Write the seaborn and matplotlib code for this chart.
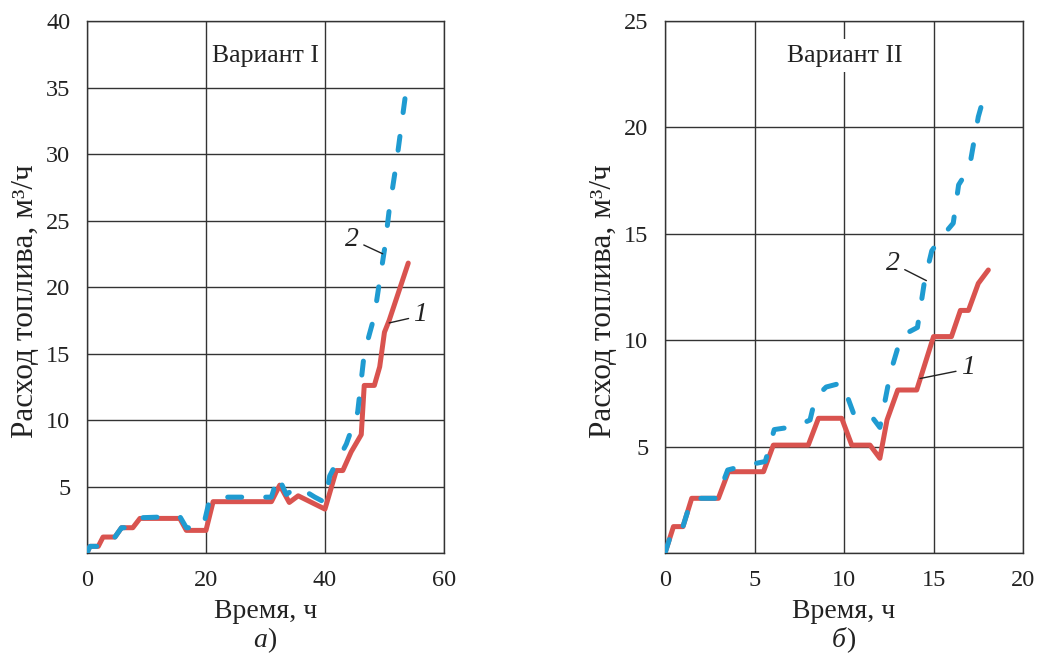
import matplotlib
matplotlib.use("Agg")
import matplotlib.pyplot as plt
import pandas as pd
import seaborn as sns

# Вариант I (а): время, ч / расход топлива, м3/ч
t1_line1 = [0, 0.5, 1.9, 2.7, 4.7, 5.8, 7.7, 8.9, 15.6, 16.7, 20, 21.2, 31, 32.4, 34, 35.5,
            40, 41.9, 43, 44.4, 46.1, 46.6, 48.3, 49.2, 50, 50.8, 54]
q1_line1 = [0, 0.5, 0.5, 1.2, 1.2, 1.9, 1.9, 2.6, 2.6, 1.7, 1.7, 3.86, 3.86, 5.1, 3.8, 4.3,
            3.3, 6.2, 6.2, 7.6, 8.9, 12.6, 12.6, 14.0, 16.6, 17.5, 21.8]
t1_line2 = [0, 0.5, 1.9, 2.7, 4.7, 5.8, 7.7, 8.9, 15.6, 16.7, 19.5, 20.6, 21.5, 31, 32.1, 33.5,
            35.4, 38.3, 40, 40.8, 43.6, 45.5, 46.6, 47.5, 48.3, 49.2, 50, 50.8, 52, 52.8, 53.7]
q1_line2 = [0, 0.5, 0.5, 1.2, 1.2, 1.9, 1.9, 2.65, 2.75, 1.9, 1.9, 4.0, 4.2, 4.2, 5.8, 4.4,
            5.0, 4.2, 3.8, 5.8, 8.2, 10.6, 15.0, 16.5, 17.8, 20.5, 22.8, 25.8, 29.3, 32.0, 35.0]

# Вариант II (б)
t2_line1 = [0, 0.47, 1.0, 1.49, 2.98, 3.54, 5.5, 6.05, 8.0, 8.57, 9.87, 10.43, 11.45, 12.0,
            12.4, 13.0, 14.06, 15.0, 16.0, 16.5, 16.95, 17.5, 18.06]
q2_line1 = [0, 1.24, 1.24, 2.57, 2.57, 3.82, 3.82, 5.07, 5.07, 6.33, 6.33, 5.07, 5.07, 4.45,
            6.25, 7.66, 7.66, 10.17, 10.17, 11.4, 11.4, 12.67, 13.3]
t2_line2 = [0, 0.47, 1.0, 1.49, 2.9, 3.5, 4.4, 5.6, 6.1, 7.3, 8.1, 8.4, 9.0, 9.9, 10.6, 11.6,
            12.0, 12.6, 13.2, 14.1, 14.5, 14.9, 15.4, 16.1, 16.4, 17.0, 17.5, 17.9]
q2_line2 = [0, 1.24, 1.24, 2.57, 2.57, 3.9, 4.1, 4.3, 5.8, 5.95, 6.25, 7.3, 7.8, 8.0, 6.4, 6.35,
            5.9, 8.5, 10.2, 10.6, 12.8, 14.2, 14.8, 15.5, 17.3, 18.1, 20.5, 21.7]

RED = "#d9534f"
BLUE = "#1f9bd1"
GRID = "#333333"
INK = "#222222"

sns.set_theme(style="white")
plt.rcParams["font.family"] = ["Liberation Serif", "DejaVu Serif"]

fig = plt.figure(figsize=(10.38, 6.57), dpi=100)
ax1 = fig.add_axes([0.0838, 0.1583, 0.3439, 0.8097])
ax2 = fig.add_axes([0.6407, 0.1583, 0.3449, 0.8097])


def draw_panel(ax, t_a, q_a, t_b, q_b, xmax, xstep, ymax, title, title_x, boxed, ann):
    d1 = pd.DataFrame({"t": t_a, "q": q_a})
    d2 = pd.DataFrame({"t": t_b, "q": q_b})
    sns.lineplot(data=d1, x="t", y="q", ax=ax, color=RED, linewidth=3.6,
                 estimator=None, sort=False, solid_capstyle="round", zorder=3)
    sns.lineplot(data=d2, x="t", y="q", ax=ax, color=BLUE, linewidth=3.6,
                 estimator=None, sort=False, linestyle=(0, (2.8, 4.8)),
                 dash_capstyle="round", zorder=4)
    ax.set_xlim(0, xmax)
    ax.set_ylim(0, ymax)
    ax.set_xticks(range(0, xmax + 1, xstep))
    yt = list(range(0, ymax + 1, 5))
    ax.set_yticks(yt)
    ax.set_yticklabels([""] + [str(v) for v in yt[1:]])
    ax.grid(True, color=GRID, linewidth=1)
    ax.set_axisbelow(True)
    for s in ax.spines.values():
        s.set_visible(True)
        s.set_color(GRID)
        s.set_linewidth(1)
    ax.tick_params(direction="out", length=8, width=1, color=GRID,
                   labelsize=17.5, pad=4, labelcolor=INK)
    ax.set_xlabel("Время, ч", fontsize=20, color=INK, labelpad=6)
    ax.set_ylabel("Расход топлива, м³/ч", fontsize=22.5, color=INK, labelpad=4)
    ax.yaxis.label.set_y(0.474)
    box = dict(facecolor="white", edgecolor="none", pad=4) if boxed else None
    ax.text(title_x, ymax * 0.935, title, fontsize=18.5, color=INK,
            ha="center", va="center", zorder=5, bbox=box)
    for label, txy, pxy, rel in ann:
        ax.annotate(label, xy=pxy, xytext=txy, fontsize=20, style="italic",
                    color=INK, ha="center", va="center", zorder=6,
                    arrowprops=dict(arrowstyle="-", color=INK, lw=1,
                                    shrinkA=1, shrinkB=0, relpos=rel))


draw_panel(ax1, t1_line1, q1_line1, t1_line2, q1_line2, 60, 20, 40,
           "Вариант I", 30, False,
           [("2", (44.6, 23.6), (49.7, 22.5), (1.0, 0.35)),
            ("1", (56.0, 17.9), (50.8, 17.3), (0.0, 0.4))])
draw_panel(ax2, t2_line1, q2_line1, t2_line2, q2_line2, 20, 5, 25,
           "Вариант II", 10.05, True,
           [("2", (12.75, 13.6), (14.6, 12.8), (1.0, 0.35)),
            ("1", (16.9, 8.7), (14.25, 8.2), (0.0, 0.4))])

for ax, letter in ((ax1, "а"), (ax2, "б")):
    pos = ax.get_position()
    xc = (pos.x0 + pos.x1) / 2
    fig.text(xc + 0.002, 0.015, letter, fontsize=20, style="italic",
             ha="right", va="baseline", color=INK)
    fig.text(xc + 0.002, 0.015, ")", fontsize=20,
             ha="left", va="baseline", color=INK)

fig.savefig("out.png", dpi=100)
